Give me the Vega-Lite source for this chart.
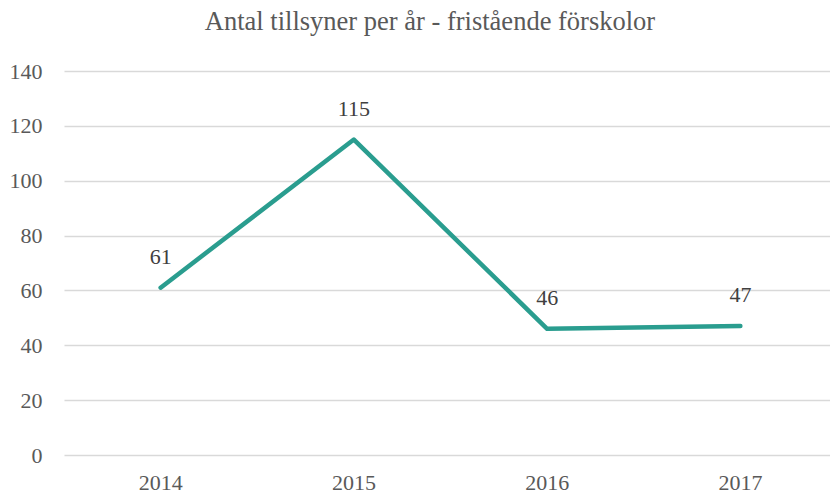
{
  "$schema": "https://vega.github.io/schema/vega-lite/v6.json",
  "width": 766,
  "height": 384,
  "autosize": {"type": "none"},
  "padding": {"left": 64, "top": 71, "right": 0, "bottom": 38},
  "background": "white",
  "title": {
    "text": "Antal tillsyner per år - fristående förskolor",
    "font": "Liberation Serif",
    "fontSize": 26.5,
    "fontWeight": "normal",
    "color": "#595959",
    "anchor": "middle",
    "dx": -17,
    "offset": 4,
    "baseline": "alphabetic"
  },
  "config": {
    "view": {"stroke": null},
    "axis": {"labelFont": "Liberation Serif", "labelFontSize": 22, "labelColor": "#595959"}
  },
  "data": {
    "values": [
      {"year": "2014", "count": 61},
      {"year": "2015", "count": 115},
      {"year": "2016", "count": 46},
      {"year": "2017", "count": 47}
    ]
  },
  "encoding": {
    "x": {
      "field": "year",
      "type": "ordinal",
      "scale": {"type": "band", "range": [0, 773], "paddingInner": 0, "paddingOuter": 0},
      "axis": {"title": null, "labelAngle": 0, "domain": false, "ticks": false, "grid": false, "labelBaseline": "alphabetic", "labelPadding": 34}
    },
    "y": {
      "field": "count",
      "type": "quantitative",
      "scale": {"domain": [0, 140], "nice": false},
      "axis": {"title": null, "values": [0, 20, 40, 60, 80, 100, 120, 140], "domain": false, "ticks": false, "gridColor": "#d9d9d9", "gridWidth": 1.3, "labelPadding": 22}
    }
  },
  "layer": [
    {
      "mark": {"type": "line", "color": "#2a9d8f", "strokeWidth": 4.5, "strokeCap": "round", "strokeJoin": "round"}
    },
    {
      "mark": {"type": "text", "font": "Liberation Serif", "fontSize": 22, "color": "#404040", "baseline": "alphabetic", "dy": -24},
      "encoding": {"text": {"field": "count", "type": "quantitative"}}
    }
  ]
}
